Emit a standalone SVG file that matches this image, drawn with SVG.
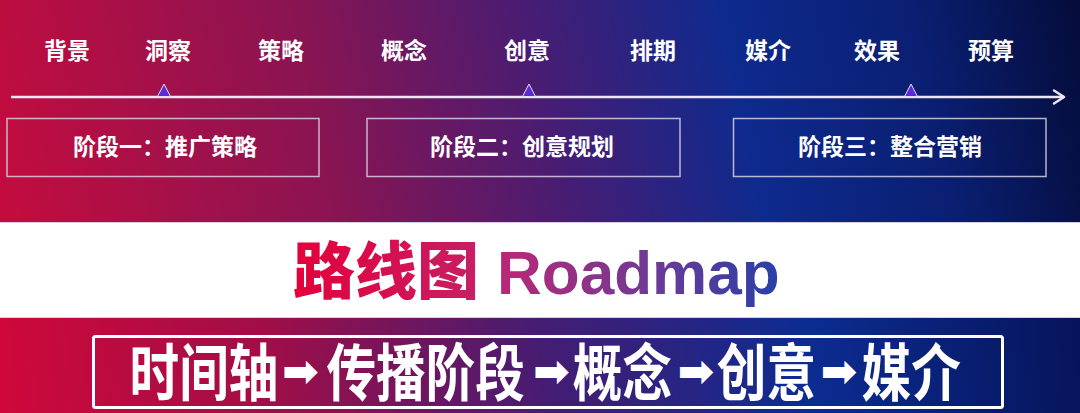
<svg xmlns="http://www.w3.org/2000/svg" width="1080" height="413" viewBox="0 0 1080 413">
  <defs>
    <linearGradient id="bgTop" x1="0" y1="222" x2="1080" y2="0" gradientUnits="userSpaceOnUse">
      <stop offset="0" stop-color="#c40c3e"/>
      <stop offset="0.3" stop-color="#8a1452"/>
      <stop offset="0.5" stop-color="#4a1c72"/>
      <stop offset="0.68" stop-color="#0e2a8e"/>
      <stop offset="0.85" stop-color="#0a1f72"/>
      <stop offset="1" stop-color="#050c3a"/>
    </linearGradient>
    <linearGradient id="bgBot" x1="0" y1="413" x2="1080" y2="317" gradientUnits="userSpaceOnUse">
      <stop offset="0" stop-color="#d0083a"/>
      <stop offset="0.25" stop-color="#a00e48"/>
      <stop offset="0.5" stop-color="#461c72"/>
      <stop offset="0.75" stop-color="#0c2c92"/>
      <stop offset="1" stop-color="#06145a"/>
    </linearGradient>
    <linearGradient id="titleGrad" x1="293" y1="0" x2="780" y2="0" gradientUnits="userSpaceOnUse">
      <stop offset="0" stop-color="#e4003a"/>
      <stop offset="0.37" stop-color="#c81e64"/>
      <stop offset="0.45" stop-color="#b42a78"/>
      <stop offset="0.75" stop-color="#6a3a98"/>
      <stop offset="1" stop-color="#2840a8"/>
    </linearGradient>
    <style>
      .lbl { font-family: "Noto Sans CJK SC", "Noto Sans", sans-serif; font-weight: 700; font-size: 23px; fill: #ffffff; text-anchor: middle; }
      .phase { fill: none; stroke: #d8d0e4; stroke-opacity: 0.85; stroke-width: 1.5; }
      .tri { fill: #5b2bd6; stroke: #e6def4; stroke-width: 1; }
      .big { font-family: "Noto Sans CJK SC", sans-serif; font-weight: 700; font-size: 62px; fill: #ffffff; text-anchor: middle; }
      .arr { font-family: "DejaVu Sans", sans-serif; font-weight: 700; font-size: 44px; fill: #ffffff; text-anchor: middle; }
    </style>
  </defs>

  <!-- backgrounds -->
  <rect x="0" y="0" width="1080" height="223" fill="url(#bgTop)"/>
  <rect x="0" y="222" width="1080" height="95" fill="#ffffff"/>
  <line x1="0" y1="222.5" x2="1080" y2="222.5" stroke="#d9cde6" stroke-width="1"/>
  <rect x="0" y="317" width="1080" height="96" fill="url(#bgBot)"/>
  <line x1="0" y1="317.5" x2="1080" y2="317.5" stroke="#d9cde6" stroke-width="1"/>

  <!-- timeline connectors -->
  <g id="connectors">
    <line x1="11" y1="97" x2="1064" y2="97" stroke="#ece6f4" stroke-width="2.5"/>
    <polyline points="1054,90.5 1064,97 1054,103.5" fill="none" stroke="#ece6f4" stroke-width="2.5" stroke-linecap="round" stroke-linejoin="round"/>
  </g>

  <!-- timeline labels -->
  <g id="labels">
    <text class="lbl" x="67" y="59">背景</text>
    <text class="lbl" x="168" y="59">洞察</text>
    <text class="lbl" x="281" y="59">策略</text>
    <text class="lbl" x="404" y="59">概念</text>
    <text class="lbl" x="527" y="59">创意</text>
    <text class="lbl" x="653" y="59">排期</text>
    <text class="lbl" x="768" y="59">媒介</text>
    <text class="lbl" x="877" y="59">效果</text>
    <text class="lbl" x="991" y="59">预算</text>
  </g>

  <!-- markers -->
  <g id="markers">
    <polygon class="tri" points="157.5,96.5 164,84 170.5,96.5"/>
    <polygon class="tri" points="522.5,96.5 529,84 535.5,96.5"/>
    <polygon class="tri" points="904.5,96.5 911,84 917.5,96.5"/>
  </g>

  <!-- phases -->
  <g id="phase1">
    <rect class="phase" x="7" y="118.5" width="312" height="58"/>
    <text class="lbl" x="165" y="155">阶段一：推广策略</text>
  </g>
  <g id="phase2">
    <rect class="phase" x="367" y="118.5" width="313" height="58"/>
    <text class="lbl" x="522" y="155">阶段二：创意规划</text>
  </g>
  <g id="phase3">
    <rect class="phase" x="733.5" y="118.5" width="312.5" height="58"/>
    <text class="lbl" x="890" y="155">阶段三：整合营销</text>
  </g>

  <!-- title -->
  <g id="title">
    <text x="293" y="294" fill="url(#titleGrad)" font-family="Noto Sans CJK SC, sans-serif" font-weight="900" font-size="62">路线图<tspan font-family="Liberation Sans, Arial, sans-serif" font-weight="700" font-size="62" dx="18">Roadmap</tspan></text>
  </g>

  <!-- summary -->
  <g id="summary">
    <rect x="93.5" y="336.5" width="909" height="71" rx="2" fill="none" stroke="#ffffff" stroke-width="3"/>
    <g transform="translate(0,396) scale(0.8,1)">
      <text class="big" x="255" y="0">时间轴</text>
      <text class="big" x="532" y="0">传播阶段</text>
      <text class="big" x="778" y="0">概念</text>
      <text class="big" x="958" y="0">创意</text>
      <text class="big" x="1139" y="0">媒介</text>
    </g>
    <text class="arr" x="300.5" y="386">➡</text>
    <text class="arr" x="551.5" y="386">➡</text>
    <text class="arr" x="696" y="386">➡</text>
    <text class="arr" x="839" y="386">➡</text>
  </g>
</svg>
